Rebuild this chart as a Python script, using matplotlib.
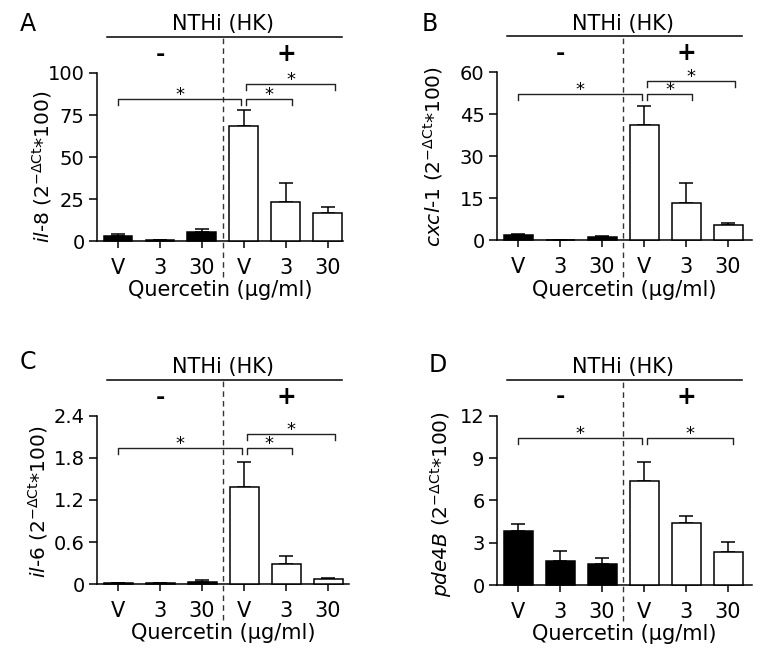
import matplotlib
matplotlib.use('Agg')
import matplotlib.pyplot as plt
import matplotlib.transforms as mtransforms

plt.rcParams['font.family'] = ['DejaVu Sans']
plt.rcParams['mathtext.fontset'] = 'dejavusans'

# data
doses = ['V', '3', '30', 'V', '3', '30']

il8_mean = [3.2, 0.4, 5.1, 68.3, 23.0, 16.6]
il8_err = [1.2, 0.1, 1.8, 9.9, 11.4, 3.8]

cxcl1_mean = [1.8, 0.3, 1.2, 41.1, 13.4, 5.6]
cxcl1_err = [0.35, 0.05, 0.3, 6.8, 7.1, 0.7]

il6_mean = [0.012, 0.008, 0.03, 1.38, 0.28, 0.065]
il6_err = [0.005, 0.003, 0.025, 0.36, 0.125, 0.022]

pde4b_mean = [3.83, 1.70, 1.51, 7.41, 4.38, 2.32]
pde4b_err = [0.50, 0.69, 0.41, 1.35, 0.54, 0.71]

colors = ['black'] * 3 + ['white'] * 3

panels = [
    dict(letter='A', pos=[0.1260, 0.6381, 0.3195, 0.2523], xmax=5.36,
         mean=il8_mean, err=il8_err, ymax=100,
         yticks=[0, 25, 50, 75, 100], yticklabels=['0', '25', '50', '75', '100'],
         gene='il-8', lab=(-0.175, 0.44), letter_xy=(28, 24),
         brackets=[(0, 2.94, 84.7), (3.06, 4.15, 84.7), (3.06, 5.17, 93.2)]),
    dict(letter='B', pos=[0.6455, 0.6389, 0.3312, 0.2523], xmax=5.57,
         mean=cxcl1_mean, err=cxcl1_err, ymax=60,
         yticks=[0, 15, 30, 45, 60], yticklabels=['0', '15', '30', '45', '60'],
         gene='cxcl-1', lab=(-0.204, 0.497), letter_xy=(430, 24),
         brackets=[(0, 2.94, 52.3), (3.06, 4.15, 52.3), (3.06, 5.17, 57.0)]),
    dict(letter='C', pos=[0.1260, 0.1231, 0.3273, 0.2523], xmax=5.5,
         mean=il6_mean, err=il6_err, ymax=2.4,
         yticks=[0, 0.6, 1.2, 1.8, 2.4], yticklabels=['0', '0.6', '1.2', '1.8', '2.4'],
         gene='il-6', lab=(-0.185, 0.49), letter_xy=(28, 362),
         brackets=[(0, 2.94, 1.94), (3.06, 4.15, 1.94), (3.06, 5.17, 2.14)]),
    dict(letter='D', pos=[0.6455, 0.1216, 0.3312, 0.2538], xmax=5.57,
         mean=pde4b_mean, err=pde4b_err, ymax=12,
         yticks=[0, 3, 6, 9, 12], yticklabels=['0', '3', '6', '9', '12'],
         gene='pde4B', lab=(-0.17, 0.48), letter_xy=(438, 365),
         brackets=[(0, 2.94, 10.41), (3.06, 5.12, 10.41)]),
]

W, H = 770, 666
fig = plt.figure(figsize=(W / 100, H / 100), dpi=100)

for p in panels:
    ax = fig.add_axes(p['pos'])
    x = list(range(len(doses)))
    ax.bar(x, p['mean'], width=0.69, color=colors, edgecolor='black',
           linewidth=1.1, zorder=3, clip_on=False)
    ax.errorbar(x, p['mean'], yerr=[[0] * len(x), p['err']], fmt='none',
                ecolor='black', elinewidth=1.1, capsize=5, capthick=1.1, zorder=2)

    ax.set_xlim(-0.5, p['xmax'])
    ax.set_ylim(0, p['ymax'])
    ax.set_xticks(x)
    ax.set_xticklabels(doses)
    ax.set_yticks(p['yticks'])
    ax.set_yticklabels(p['yticklabels'])
    for s in ['top', 'right']:
        ax.spines[s].set_visible(False)
    for s in ['left', 'bottom']:
        ax.spines[s].set_linewidth(1.1)
    ax.tick_params(axis='both', direction='out', width=1.1)
    ax.tick_params(axis='x', length=5, pad=7, labelsize=15)
    ax.tick_params(axis='y', length=6, pad=3, labelsize=14)

    ax.set_xlabel('Quercetin (\u03bcg/ml)', fontsize=15, labelpad=2)
    g = p['gene']
    ax.set_ylabel(r'$\mathit{' + g.replace('-', '}$-$\\mathit{') + r'}$ (2$^{-\Delta\mathrm{Ct}}$*100)',
                  fontsize=14.5)
    ax.yaxis.set_label_coords(*p['lab'])

    ymax = p['ymax']
    drop = 0.036 * ymax
    for x1, x2, y in p['brackets']:
        ax.plot([x1, x1, x2, x2], [y - drop, y, y, y - drop], color='#222222',
                lw=1, clip_on=False, zorder=4)
        ax.annotate('*', ((x1 + x2) / 2, y), xytext=(0, 3), textcoords='offset points',
                    ha='center', va='center', fontsize=13)

    trans = mtransforms.blended_transform_factory(ax.transData, ax.transAxes)
    ax.plot([2.5, 2.5], [-0.215, 1.215], transform=trans, ls=(0, (4, 3)),
            color='#333333', lw=1, clip_on=False)
    ax.plot([-0.27, 5.33], [1.215, 1.215], transform=trans, color='black',
            lw=1.1, clip_on=False)
    ax.text(2.5, 1.29, 'NTHi (HK)', transform=trans, ha='center', va='center', fontsize=15)
    ax.text(1, 1.11, '-', transform=trans, ha='center', va='center',
            fontsize=16, fontweight='bold')
    ax.text(4, 1.115, '+', transform=trans, ha='center', va='center',
            fontsize=17, fontweight='bold')

    lx, ly = p['letter_xy']
    fig.text(lx / W, 1 - ly / H, p['letter'], ha='center', va='center', fontsize=17)

fig.savefig('out.png', dpi=100)
